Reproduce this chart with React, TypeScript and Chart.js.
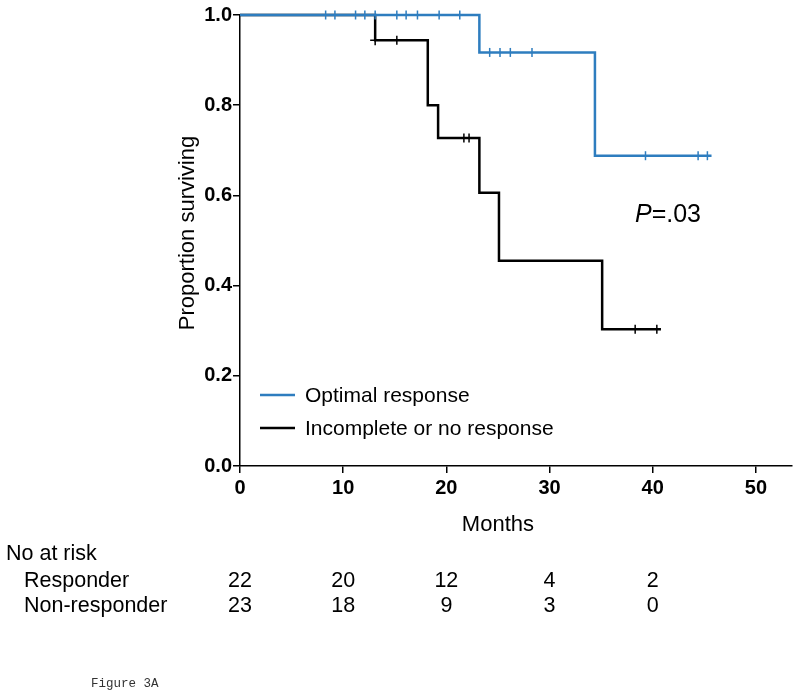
import React, { useEffect, useRef } from "react";
import { Chart, registerables } from "chart.js";

Chart.register(...registerables);

// ---- Data ----
const xTickValues = [0, 10, 20, 30, 40, 50];

// Optimal response (responders): Kaplan-Meier step points
const responderTimes = [0, 23.2, 34.4, 45.7];
const responderSurv = [1.0, 0.917, 0.688, 0.688];
const responderCensorTimes = [8.3, 9.2, 11.2, 12.1, 13.1, 15.2, 16.1, 17.2, 19.3, 21.3, 24.2, 25.2, 26.2, 28.3, 39.3, 44.4, 45.3];
const responderCensorSurv = [1, 1, 1, 1, 1, 1, 1, 1, 1, 1, 0.917, 0.917, 0.917, 0.917, 0.688, 0.688, 0.688];

// Incomplete or no response (non-responders)
const nonResponderTimes = [0, 13.1, 18.2, 19.2, 23.2, 25.1, 35.1, 40.8];
const nonResponderSurv = [1.0, 0.944, 0.8, 0.727, 0.606, 0.455, 0.303, 0.303];
const nonResponderCensorTimes = [15.2, 21.7, 22.2, 38.3, 40.4];
const nonResponderCensorSurv = [0.944, 0.727, 0.727, 0.303, 0.303];
const nonResponderCornerTimes = [13.1];
const nonResponderCornerSurv = [0.944];

// Number at risk table
const riskTimes = [0, 10, 20, 30, 40];
const responderAtRisk = [22, 20, 12, 4, 2];
const nonResponderAtRisk = [23, 18, 9, 3, 0];

const seriesLabels = ["Optimal response", "Incomplete or no response"];
const riskRowLabels = ["Responder", "Non-responder"];
const pValueText = "=.03";

const BLUE = "#2e7dbf";
const BLACK = "#000000";
const FONT = '"Liberation Sans", Arial, Helvetica, sans-serif';

const toXY = (xs: number[], ys: number[]) => xs.map((x, i) => ({ x, y: ys[i] }));

const annotationsPlugin = {
  id: "kmAnnotations",
  afterDraw(chart: any) {
    const ctx = chart.ctx as CanvasRenderingContext2D;
    const xs = chart.scales.x;
    ctx.save();
    ctx.fillStyle = "#000";

    // Y axis title
    ctx.save();
    ctx.translate(188, 233);
    ctx.rotate(-Math.PI / 2);
    ctx.font = `22px ${FONT}`;
    ctx.textAlign = "center";
    ctx.textBaseline = "middle";
    ctx.fillText("Proportion surviving", 0, 0);
    ctx.restore();

    // X axis title
    ctx.font = `22px ${FONT}`;
    ctx.textAlign = "center";
    ctx.textBaseline = "alphabetic";
    ctx.fillText("Months", xs.getPixelForValue(25), 531);

    // Legend
    const legendRows = [
      { color: BLUE, label: seriesLabels[0], y: 395 },
      { color: BLACK, label: seriesLabels[1], y: 428 },
    ];
    ctx.font = `21px ${FONT}`;
    ctx.textAlign = "left";
    ctx.textBaseline = "middle";
    legendRows.forEach((r) => {
      ctx.strokeStyle = r.color;
      ctx.lineWidth = 2.5;
      ctx.beginPath();
      ctx.moveTo(260, r.y);
      ctx.lineTo(295, r.y);
      ctx.stroke();
      ctx.fillStyle = "#000";
      ctx.fillText(r.label, 305, r.y + 1);
    });

    // P value
    ctx.font = `italic 25px ${FONT}`;
    ctx.textBaseline = "middle";
    ctx.fillText("P", 635, 215);
    const pw = ctx.measureText("P").width;
    ctx.font = `25px ${FONT}`;
    ctx.fillText(pValueText, 635 + pw, 215);

    // Number at risk table
    ctx.font = `21.5px ${FONT}`;
    ctx.textBaseline = "alphabetic";
    ctx.textAlign = "left";
    ctx.fillText("No at risk", 6, 560);
    ctx.fillText(riskRowLabels[0], 24, 587);
    ctx.fillText(riskRowLabels[1], 24, 612);
    ctx.textAlign = "center";
    riskTimes.forEach((t, i) => {
      const px = xs.getPixelForValue(t);
      ctx.fillText(String(responderAtRisk[i]), px, 587);
      ctx.fillText(String(nonResponderAtRisk[i]), px, 612);
    });

    // Figure label
    ctx.font = `12.5px "Liberation Mono", "Courier New", monospace`;
    ctx.textAlign = "left";
    ctx.fillStyle = "#333";
    ctx.fillText("Figure 3A", 91, 687);

    ctx.restore();
  },
};

export default function App() {
  const ref = useRef<HTMLCanvasElement>(null);

  useEffect(() => {
    if (!ref.current) return;
    const chart = new Chart(ref.current, {
      type: "line",
      data: {
        datasets: [
          {
            label: seriesLabels[0],
            data: toXY(responderTimes, responderSurv),
            borderColor: BLUE,
            borderWidth: 2.5,
            stepped: "before",
            pointRadius: 0,
            fill: false,
            clip: false,
          } as any,
          {
            type: "scatter",
            label: "Responder censored",
            data: toXY(responderCensorTimes, responderCensorSurv),
            showLine: false,
            pointStyle: "line",
            rotation: 90,
            pointRadius: 4.5,
            borderColor: BLUE,
            backgroundColor: BLUE,
            borderWidth: 1.5,
            clip: false,
          } as any,
          {
            label: seriesLabels[1],
            data: toXY(nonResponderTimes, nonResponderSurv),
            borderColor: BLACK,
            borderWidth: 2.5,
            stepped: "before",
            pointRadius: 0,
            fill: false,
            clip: false,
          } as any,
          {
            type: "scatter",
            label: "Non-responder censored",
            data: toXY(nonResponderCensorTimes, nonResponderCensorSurv),
            showLine: false,
            pointStyle: "line",
            rotation: 90,
            pointRadius: 4.5,
            borderColor: BLACK,
            backgroundColor: BLACK,
            borderWidth: 1.5,
            clip: false,
          } as any,
          {
            type: "scatter",
            label: "Non-responder corner",
            data: toXY(nonResponderCornerTimes, nonResponderCornerSurv),
            showLine: false,
            pointStyle: "cross",
            pointRadius: 5,
            borderColor: BLACK,
            backgroundColor: BLACK,
            borderWidth: 1.5,
            clip: false,
          } as any,
        ],
      },
      options: {
        responsive: false,
        animation: false,
        devicePixelRatio: 1,
        layout: { padding: { left: 0, top: 15, right: 8, bottom: 0 } },
        plugins: {
          legend: { display: false },
          tooltip: { enabled: false },
        },
        scales: {
          x: {
            type: "linear",
            min: 0,
            max: 53.5,
            afterFit: (s: any) => {
              s.height = 232;
            },
            afterBuildTicks: (s: any) => {
              s.ticks = xTickValues.map((v) => ({ value: v }));
            },
            ticks: {
              includeBounds: false,
              color: "#000",
              padding: 3,
              maxRotation: 0,
              font: { family: FONT, size: 20, weight: "bold" },
              callback: (v: any) => String(v),
            },
            grid: {
              drawOnChartArea: false,
              drawTicks: true,
              tickLength: 7,
              color: "#000",
              lineWidth: 1.5,
            },
            border: { display: true, color: "#000", width: 1.5 },
          },
          y: {
            type: "linear",
            min: 0,
            max: 1,
            afterFit: (s: any) => {
              s.width = 240;
            },
            ticks: {
              stepSize: 0.2,
              color: "#000",
              padding: 1,
              font: { family: FONT, size: 20, weight: "bold" },
              callback: (v: any) => Number(v).toFixed(1),
            },
            grid: {
              drawOnChartArea: false,
              drawTicks: true,
              tickLength: 7,
              color: "#000",
              lineWidth: 1.5,
            },
            border: { display: true, color: "#000", width: 1.5 },
          },
        },
      } as any,
      plugins: [annotationsPlugin],
    });
    return () => chart.destroy();
  }, []);

  return (
    <div
      style={{
        position: "absolute",
        left: 0,
        top: 0,
        width: 800,
        height: 698,
        background: "#fff",
      }}
    >
      <canvas ref={ref} width={800} height={698} style={{ display: "block", width: 800, height: 698 }} />
    </div>
  );
}
